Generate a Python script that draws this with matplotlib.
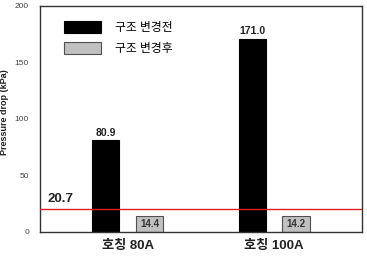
import matplotlib
matplotlib.use("Agg")
import matplotlib.pyplot as plt
import numpy as np

plt.rcParams['font.family'] = ['Liberation Sans', 'Noto Sans CJK KR', 'DejaVu Sans']

categories = ['호칭 80A', '호칭 100A']
before = [80.9, 171.0]
after = [14.4, 14.2]
series_names = ['구조 변경전', '구조 변경후']
ref_value = 20.7

fig = plt.figure(figsize=(3.67, 2.56), dpi=100)
ax = fig.add_axes([0.109, 0.094, 0.877, 0.883])

x = np.arange(len(categories))
w = 0.185
off = 0.15
ax.bar(x - off, before, w, color='black', edgecolor='black', linewidth=0.8, label=series_names[0], zorder=2)
ax.bar(x + off, after, w, color='#c0c0c0', edgecolor='#505050', linewidth=0.8, label=series_names[1], zorder=2)

for xi, v in zip(x - off, before):
    ax.text(xi, v + 2, f'{v:.1f}', ha='center', va='bottom', fontsize=7.5, fontweight='bold', color='#222222')
for xi, v in zip(x + off, after):
    ax.text(xi, v / 2, f'{v:.1f}', ha='center', va='center', fontsize=7, fontweight='bold', color='#333333', zorder=3)

ax.axhline(ref_value, color='#e02020', linewidth=1.0, zorder=3)
ax.text(-0.55, ref_value + 3, f'{ref_value}', ha='left', va='bottom', fontsize=9.5, fontweight='semibold', color='#222222')

ax.set_xlim(-0.60, 1.60)
ax.set_ylim(0, 200)
ax.set_yticks([0, 50, 100, 150, 200])
ax.set_xticks(x)
ax.set_xticklabels(categories, fontsize=9.5, fontweight='bold', color='#222222')
ax.tick_params(axis='y', length=0, pad=8, labelsize=6, labelcolor='#444444')
ax.tick_params(axis='x', length=0, pad=6)
ax.set_ylabel('Pressure drop (kPa)', fontsize=6.5, fontweight='bold', color='#222222', labelpad=4)
ax.yaxis.set_label_coords(-0.095, 0.53)
for s in ax.spines.values():
    s.set_color('#333333')
    s.set_linewidth(1.0)

leg = ax.legend(loc='upper left', bbox_to_anchor=(0.04, 0.98), frameon=False, fontsize=8.5,
                handlelength=3.2, handleheight=1.2, labelspacing=0.7, handletextpad=1.2)

fig.savefig('out.png', dpi=100)
